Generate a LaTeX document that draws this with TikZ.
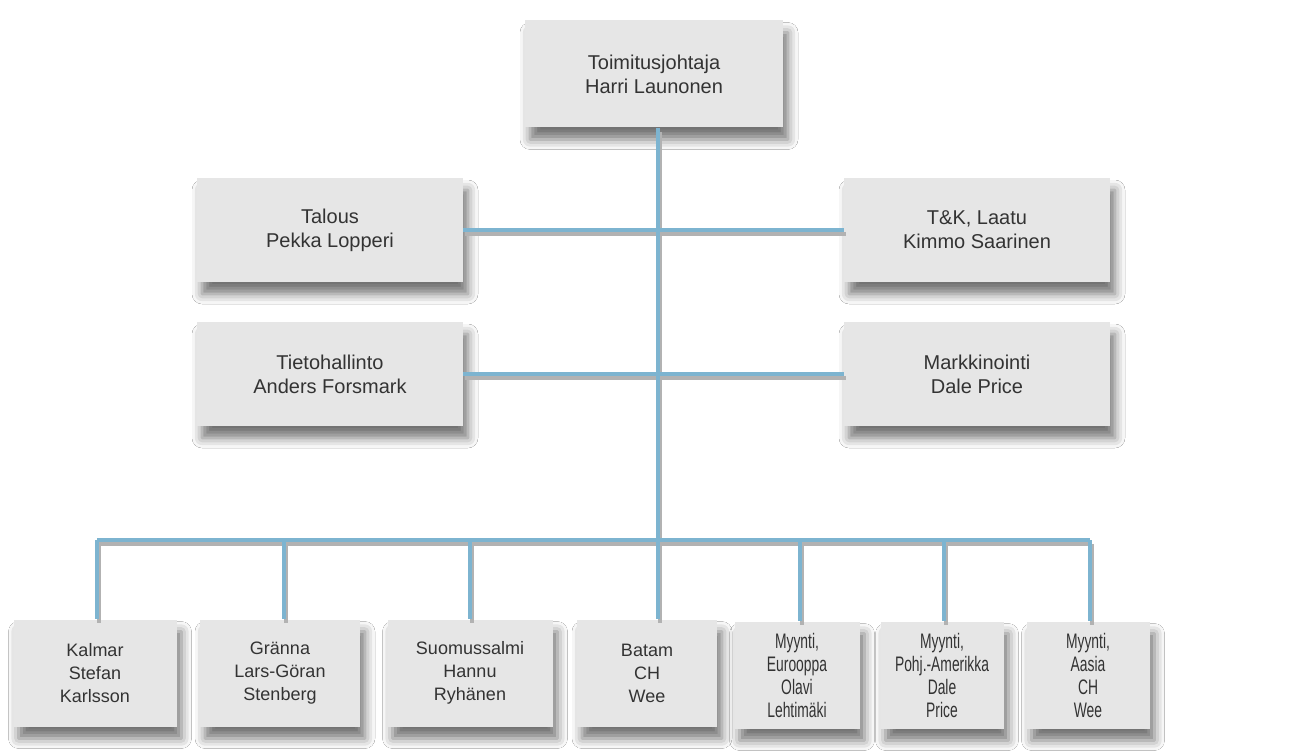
\documentclass[tikz,border=0pt]{standalone}
\usepackage{fontspec}
\setmainfont{Liberation Sans}
\newfontfamily\narrowfont[FakeStretch=0.66]{Liberation Sans}
\usetikzlibrary{shadows.blur}
\definecolor{boxgray}{HTML}{E6E6E6}
\definecolor{linkblue}{HTML}{7DB4D0}
\definecolor{txtgray}{HTML}{333333}
\begin{document}
\begin{tikzpicture}[x=1pt,y=-1pt,
  box/.style={draw=none, fill=boxgray, blur shadow={shadow xshift=5pt, shadow yshift=-12pt, shadow blur radius=10pt, shadow opacity=55},
    text=txtgray, align=center, inner sep=0pt, minimum height=104pt, font=\fontsize{20}{24}\selectfont},
  bbox/.style={box, minimum height=107pt, font=\fontsize{18}{23}\selectfont},
  nbox/.style={bbox, font=\narrowfont\fontsize{21}{23}\selectfont},
  link/.style={draw=linkblue, line width=4pt},
  linkshadow/.style={draw=black!30, line width=4pt, transform canvas={xshift=2pt,yshift=-4pt}}]
\fill[white] (0,0) rectangle (1310,754);
\useasboundingbox (0,0) rectangle (1310,754);

% coordinates of the connector network
\coordinate (busc) at (658,540);
\coordinate (d1) at (97,540);
\coordinate (d2) at (284,540);
\coordinate (d3) at (470,540);
\coordinate (d5) at (800,540);
\coordinate (d6) at (944,540);
\coordinate (d7) at (1090,540);

% nodes
\node[box, minimum width=258pt, minimum height=107pt] (ceo) at (654,74) {Toimitusjohtaja\\Harri Launonen};
\node[box, minimum width=266pt] (tal) at (330,230) {Talous\\Pekka Lopperi};
\node[box, minimum width=266pt] (tk) at (977,230) {T\&K, Laatu\\Kimmo Saarinen};
\node[box, minimum width=266pt] (tie) at (330,374) {Tietohallinto\\Anders Forsmark};
\node[box, minimum width=266pt] (mar) at (977,374) {Markkinointi\\Dale Price};

\node[bbox, minimum width=163pt] (k1) at (95,673) {Kalmar\\Stefan\\Karlsson};
\node[bbox, minimum width=160pt] (k2) at (280,673) {Gränna\\Lars-Göran\\Stenberg};
\node[bbox, minimum width=165pt] (k3) at (470,673) {Suomussalmi\\Hannu\\Ryhänen};
\node[bbox, minimum width=140pt] (k4) at (647,673) {Batam\\CH\\Wee};
\node[nbox, minimum width=125pt] (k5) at (797,675) {Myynti,\\Eurooppa\\Olavi\\Lehtimäki};
\node[nbox, minimum width=123pt] (k6) at (942,675) {Myynti,\\Pohj.-Amerikka\\Dale\\Price};
\node[nbox, minimum width=123pt] (k7) at (1088,675) {Myynti,\\Aasia\\CH\\Wee};

% connectors: shadows first
\foreach \s in {linkshadow, link}{
  \draw[\s] (ceo.south -| busc) -- (busc);
  \draw[\s] (tal.east) -- (tk.west);
  \draw[\s] (tie.east) -- (mar.west);
  \draw[\s] (d1) -- (d7);
  \draw[\s] (d1) -- (d1 |- k1.north);
  \draw[\s] (d2) -- (d2 |- k2.north);
  \draw[\s] (d3) -- (d3 |- k3.north);
  \draw[\s] (busc) -- (busc |- k4.north);
  \draw[\s] (d5) -- (d5 |- k5.north);
  \draw[\s] (d6) -- (d6 |- k6.north);
  \draw[\s] (d7) -- (d7 |- k7.north);
}
\end{tikzpicture}
\end{document}
